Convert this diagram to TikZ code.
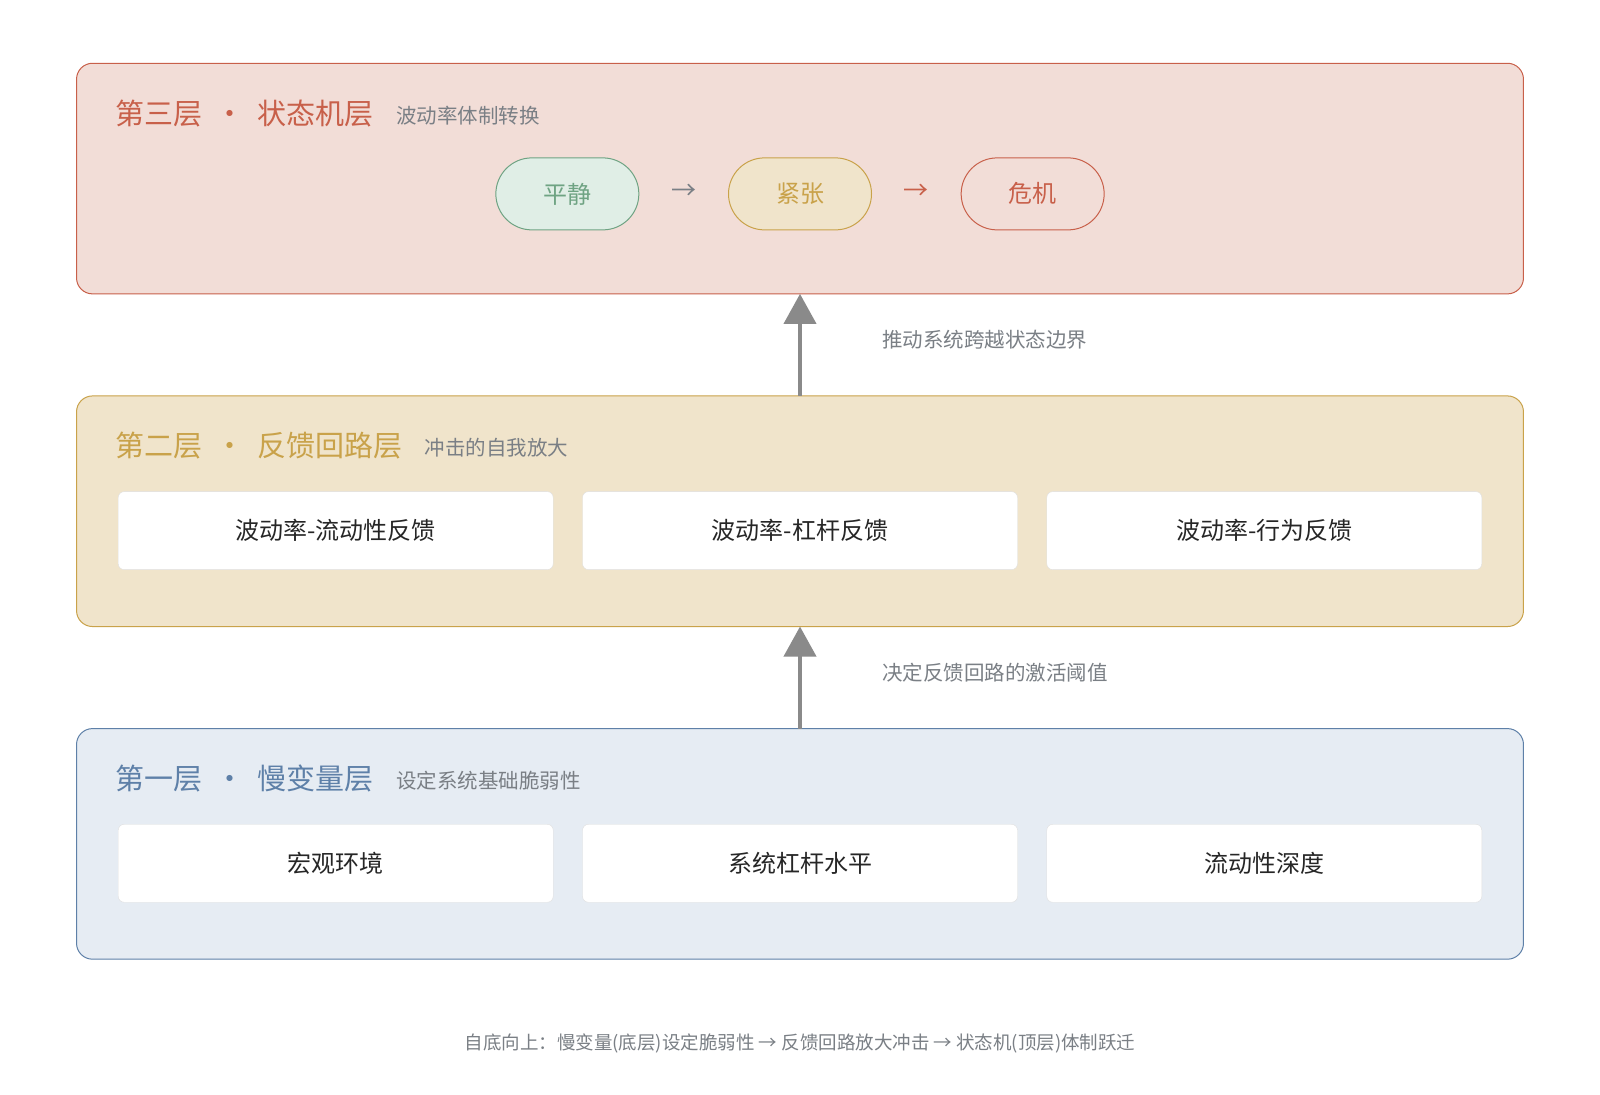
\documentclass[tikz,border=0pt]{standalone}
\usepackage{fontspec}
\setmainfont{Noto Sans CJK SC}
\usetikzlibrary{arrows.meta}
\definecolor{redF}{HTML}{F2DDD7}\definecolor{redD}{HTML}{C8604A}
\definecolor{yelF}{HTML}{F0E4CB}\definecolor{yelD}{HTML}{C9A24A}
\definecolor{bluF}{HTML}{E6ECF3}\definecolor{bluD}{HTML}{5E80A8}
\definecolor{grnF}{HTML}{E0EEE6}\definecolor{grnD}{HTML}{6FA383}
\definecolor{gtx}{HTML}{7A7F85}\definecolor{arr}{HTML}{8A8A8A}
\begin{document}
\begin{tikzpicture}[x=1.0204pt,y=-1.0204pt,
 layer/.style={draw=#1,line width=1pt,rounded corners=16pt},
 item/.style={draw=gray!25,fill=white,rounded corners=6pt,minimum width=435pt,minimum height=78pt,font=\fontsize{24}{27}\selectfont,text=black!85},
 st/.style={draw=#1,line width=1pt,rounded corners=36pt,minimum width=143pt,minimum height=72pt,font=\fontsize{24}{27}\selectfont,text=#1},
 ttl/.style={anchor=west,font=\fontsize{29}{33}\selectfont,text=#1},
 sub/.style={anchor=west,font=\fontsize{20.5}{24}\selectfont,text=gtx},
 up/.style={draw=arr,line width=4pt,-{Triangle[width=32pt,length=30pt]}}]
\useasboundingbox (0,0) rectangle (1568,1073);
\fill[white] (0,0) rectangle (1568,1073);
% layer 3
\draw[layer=redD,fill=redF] (75,62) rectangle (1493,288);
\node[ttl=redD] (t3) at (110,111) {第三层\ \ ·\ \ 状态机层};
\node[sub] (s3) at (385,113) {波动率体制转换};
\node[st=grnD,fill=grnF] (p1) at (556,190) {平静};
\node[st=yelD,fill=yelF] (p2) at (784,190) {紧张};
\node[st=redD,fill=redF] (p3) at (1012,190) {危机};
\node[font=\fontsize{25}{27}\selectfont,text=gtx] at (670,188) {→};
\node[font=\fontsize{25}{27}\selectfont,text=redD] at (898,188) {→};
% layer 2
\draw[layer=yelD,fill=yelF] (75,388) rectangle (1493,614);
\node[ttl=yelD] (t2) at (110,437) {第二层\ \ ·\ \ 反馈回路层};
\node[sub] (s2) at (413,439) {冲击的自我放大};
\node[item] (f1) at (329,520) {波动率-流动性反馈};
\node[item] (f2) at (784,520) {波动率-杠杆反馈};
\node[item] (f3) at (1239,520) {波动率-行为反馈};
% layer 1
\draw[layer=bluD,fill=bluF] (75,714) rectangle (1493,940);
\node[ttl=bluD] (t1) at (110,763) {第一层\ \ ·\ \ 慢变量层};
\node[sub] (s1) at (385,765) {设定系统基础脆弱性};
\node[item] (m1) at (329,846) {宏观环境};
\node[item] (m2) at (784,846) {系统杠杆水平};
\node[item] (m3) at (1239,846) {流动性深度};
% arrows
\coordinate (a1) at (784,714); \coordinate (b1) at (784,614);
\coordinate (a2) at (784,388); \coordinate (b2) at (784,288);
\draw[up] (a1) -- (b1);
\draw[up] (a2) -- (b2);
\node[sub] (l1) at (861,659) {决定反馈回路的激活阈值};
\node[sub] (l2) at (861,333) {推动系统跨越状态边界};
\node[font=\fontsize{18.5}{22}\selectfont,text=gtx] (ft) at (784,1023) {自底向上：慢变量(底层)设定脆弱性 → 反馈回路放大冲击 → 状态机(顶层)体制跃迁};
\end{tikzpicture}
\end{document}
